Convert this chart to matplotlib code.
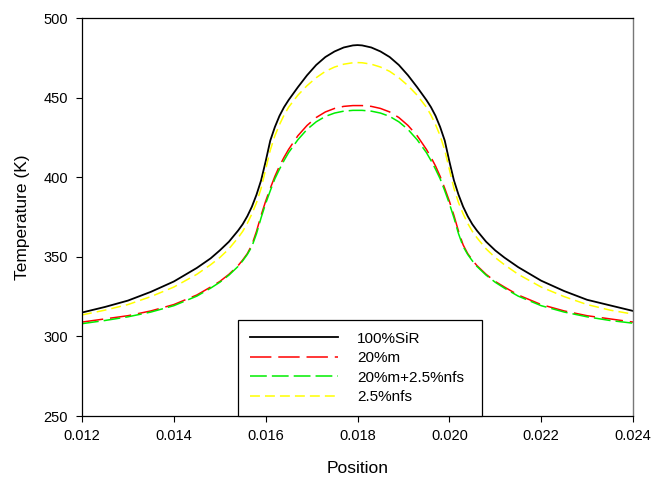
import matplotlib
matplotlib.use("Agg")
import matplotlib.pyplot as plt

plt.rcParams["font.family"] = ["Liberation Sans", "DejaVu Sans"]

# posiciones (m)
pos = [0.0120, 0.0125, 0.0130, 0.0135, 0.0140, 0.0145, 0.0148, 0.0150, 0.0152,
       0.0154, 0.0155, 0.0156, 0.0157, 0.0158, 0.0159, 0.0160, 0.0161, 0.0162,
       0.0163, 0.0164, 0.0165, 0.0167, 0.0169, 0.0171, 0.0173, 0.0175, 0.0177,
       0.0179, 0.0180,
       0.0181, 0.0183, 0.0185, 0.0187, 0.0189, 0.0191, 0.0193, 0.0195, 0.0196,
       0.0197, 0.0198, 0.0199, 0.0200, 0.0201, 0.0202, 0.0203, 0.0204, 0.0205,
       0.0206, 0.0208, 0.0210, 0.0212, 0.0215, 0.0220, 0.0225, 0.0230, 0.0235,
       0.0240]

# temperaturas (K)
t_sir = [315.0, 318.5, 322.5, 328.0, 334.5, 343.0, 349.0, 354.0, 359.5,
         366.5, 370.5, 375.5, 381.5, 389.0, 398.0, 410.0, 423.0, 431.5,
         438.5, 444.0, 448.5, 456.5, 464.0, 470.5, 475.5, 479.0, 481.5,
         482.8, 483.0,
         482.8, 481.5, 479.0, 475.5, 470.5, 464.0, 456.5, 448.5, 444.0,
         438.5, 431.5, 423.0, 410.0, 398.0, 389.0, 381.5, 375.5, 370.5,
         366.5, 359.5, 354.0, 349.5, 343.5, 335.0, 328.5, 323.0, 319.5,
         316.0]
t_m = [309.0, 311.0, 313.0, 316.0, 320.0, 326.0, 331.0, 334.5, 339.0,
       344.5, 348.0, 352.0, 357.5, 366.0, 376.0, 385.0, 393.0, 400.5,
       407.0, 412.5, 417.5, 426.0, 432.5, 437.5, 441.0, 443.2, 444.5,
       445.0, 445.0,
       445.0, 444.5, 443.2, 441.0, 437.5, 432.5, 426.0, 417.5, 412.5,
       407.0, 400.5, 393.0, 385.0, 376.0, 366.0, 357.5, 352.0, 348.0,
       344.5, 339.0, 334.5, 331.0, 326.0, 320.0, 316.0, 313.0, 311.0,
       309.0]
t_m_nfs = [308.0, 310.0, 312.3, 315.3, 319.3, 325.3, 330.3, 334.0, 338.5,
           344.0, 347.5, 351.5, 356.5, 364.5, 374.5, 383.5, 391.5, 399.0,
           405.0, 410.5, 415.5, 423.5, 430.0, 434.8, 438.2, 440.3, 441.5,
           442.0, 442.0,
           442.0, 441.5, 440.3, 438.2, 434.8, 430.0, 423.5, 415.5, 410.5,
           405.0, 399.0, 391.5, 383.5, 374.5, 364.5, 356.5, 351.5, 347.5,
           344.0, 338.5, 334.0, 330.3, 325.3, 319.3, 315.3, 312.3, 310.0,
           308.3]
t_nfs = [313.5, 316.5, 320.0, 325.0, 331.0, 339.0, 345.0, 349.5, 355.0,
         362.0, 366.0, 371.0, 377.0, 384.0, 393.0, 405.0, 417.0, 426.0,
         433.0, 439.0, 444.0, 451.5, 457.5, 462.5, 466.5, 469.2, 471.0,
         471.9, 472.0,
         471.9, 471.0, 469.2, 466.5, 462.5, 457.5, 451.5, 444.0, 439.0,
         433.0, 426.0, 417.0, 405.0, 393.0, 384.0, 377.0, 371.0, 366.0,
         362.0, 355.0, 349.5, 345.0, 339.0, 331.0, 325.0, 320.0, 316.5,
         314.0]

etiquetas = ["100%SiR", "20%m", "20%m+2.5%nfs", "2.5%nfs"]

fig = plt.figure(figsize=(6.54, 4.78), dpi=100)
ax = fig.add_axes([0.1254, 0.1297, 0.8425, 0.8326])

lw = 1.1
ax.plot(pos, t_sir, color="black", lw=1.3, label=etiquetas[0])
ax.plot(pos, t_m, color="#ff0000", lw=lw, dashes=(14, 4.5), label=etiquetas[1])
ax.plot(pos, t_m_nfs, color="#00ee00", lw=lw, dashes=(11, 3.3), label=etiquetas[2])
ax.plot(pos, t_nfs, color="#ffff00", lw=lw, dashes=(6.5, 3.3), label=etiquetas[3])

ax.set_xlim(0.012, 0.024)
ax.set_ylim(250, 500)
ax.set_xticks([0.012, 0.014, 0.016, 0.018, 0.020, 0.022, 0.024])
ax.set_xticklabels(["0.012", "0.014", "0.016", "0.018", "0.020", "0.022", "0.024"])
ax.set_yticks([250, 300, 350, 400, 450, 500])
ax.tick_params(direction="out", length=4.5, width=0.8, labelsize=10.5, pad=5)
ax.tick_params(axis="y", pad=5.5)

for s in ["left", "bottom", "top"]:
    ax.spines[s].set_color("black")
    ax.spines[s].set_linewidth(0.9)
ax.spines["right"].set_color("#777777")
ax.spines["right"].set_linewidth(1.0)

ax.set_xlabel("Position", fontsize=12.5, labelpad=13)
ax.set_ylabel("Temperature (K)", fontsize=12.5, labelpad=10)

leg = ax.legend(loc="lower left", bbox_to_anchor=(0.283, 0.0, 0.443, 0.25),
                mode="expand", fontsize=11, frameon=True, fancybox=False,
                edgecolor="black", framealpha=1, handlelength=5.8,
                handletextpad=1.2, labelspacing=0.36, borderpad=0.78,
                borderaxespad=0)
leg.get_frame().set_linewidth(0.9)

fig.savefig("out.png", dpi=100)
